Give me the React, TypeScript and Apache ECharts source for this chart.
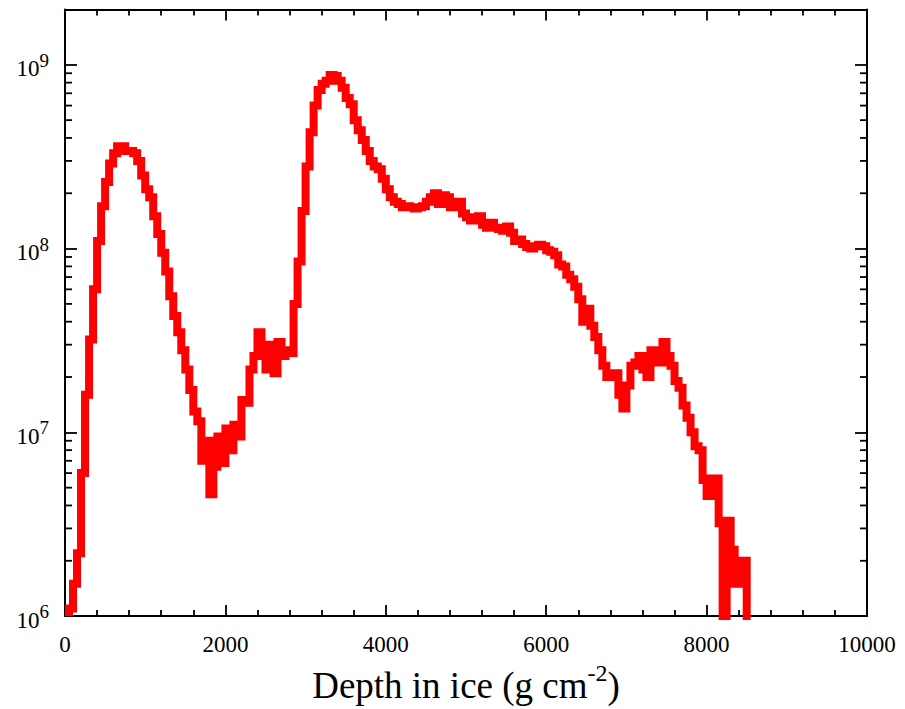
import React, { useEffect, useRef } from "react";
import * as echarts from "echarts";

// Histogram: depth in ice (g cm^-2), bins of BIN_WIDTH starting at DEPTH_START
const DEPTH_START = 0;
const BIN_WIDTH = 50;
const counts: number[] = [
  1.05e6, 1.1e6, 1.5e6, 2.2e6, 6.0e6, 1.6e7, 3.2e7, 6.0e7, 1.1e8, 1.7e8,
  2.3e8, 2.9e8, 3.3e8, 3.6e8, 3.6e8, 3.4e8, 3.4e8, 3.3e8, 3.0e8, 2.5e8,
  2.1e8, 1.9e8, 1.5e8, 1.2e8, 9.5e7, 7.5e7, 5.5e7, 4.3e7, 3.5e7, 2.8e7,
  2.2e7, 1.7e7, 1.3e7, 1.15e7, 7.0e6, 9.0e6, 4.6e6, 6.5e6, 9.5e6, 6.8e6,
  1.05e7, 8.0e6, 1.1e7, 9.5e6, 1.5e7, 1.45e7, 2.2e7, 2.6e7, 3.5e7, 2.6e7,
  2.2e7, 3.0e7, 2.1e7, 3.1e7, 2.6e7, 2.8e7, 2.7e7, 5.0e7, 8.5e7, 1.6e8,
  2.8e8, 4.3e8, 6.0e8, 7.3e8, 7.9e8, 8.2e8, 8.8e8, 8.7e8, 8.2e8, 7.5e8,
  6.6e8, 6.1e8, 5.0e8, 4.4e8, 3.9e8, 3.4e8, 3.0e8, 2.8e8, 2.7e8, 2.4e8,
  2.1e8, 1.9e8, 1.8e8, 1.75e8, 1.68e8, 1.7e8, 1.68e8, 1.65e8, 1.68e8, 1.7e8,
  1.8e8, 1.9e8, 2.0e8, 1.75e8, 1.95e8, 1.9e8, 1.68e8, 1.8e8, 1.8e8, 1.55e8,
  1.48e8, 1.42e8, 1.45e8, 1.5e8, 1.35e8, 1.3e8, 1.38e8, 1.3e8, 1.28e8, 1.25e8,
  1.32e8, 1.22e8, 1.1e8, 1.12e8, 1.06e8, 1.02e8, 1.0e8, 1.03e8, 1.05e8, 1.03e8,
  9.8e7, 9.6e7, 9.2e7, 8.2e7, 8.0e7, 7.2e7, 6.8e7, 6.2e7, 5.3e7, 4.0e7,
  4.7e7, 3.8e7, 3.3e7, 2.8e7, 2.3e7, 2.0e7, 2.0e7, 2.1e7, 1.6e7, 1.35e7,
  1.8e7, 2.3e7, 2.4e7, 2.6e7, 2.2e7, 2.0e7, 2.8e7, 2.6e7, 2.4e7, 3.1e7,
  2.6e7, 2.3e7, 1.9e7, 1.75e7, 1.4e7, 1.2e7, 1.0e7, 8.4e6, 8.0e6, 5.5e6,
  4.5e6, 5.6e6, 5.6e6, 3.2e6, 0, 3.3e6, 2.3e6, 1.5e6, 2.0e6, 2.0e6,
];

const X_MIN = 0;
const X_MAX = 10000;
const X_INTERVAL = 2000;
const Y_MIN = 1e6;
const Y_MAX = 2e9;
const Y_MINOR_MANTISSAS = [2, 3, 4, 5, 6, 7, 8, 9];
const Y_MINOR_DECADES = [6, 7, 8];
const ZERO_FLOOR = 1e3; // empty bins are drawn below the axis floor

const FONT = "'Liberation Serif', 'Times New Roman', serif";

export default function App() {
  const ref = useRef<HTMLDivElement>(null);

  useEffect(() => {
    if (!ref.current) return;
    const chart = echarts.init(ref.current, null, { renderer: "svg" });

    const lineData: [number, number][] = counts.map((c, i) => [
      DEPTH_START + i * BIN_WIDTH,
      c > 0 ? c : ZERO_FLOOR,
    ]);
    lineData.push([DEPTH_START + counts.length * BIN_WIDTH, ZERO_FLOOR]);

    const yMinor: [number, number][] = [];
    Y_MINOR_DECADES.forEach((d) =>
      Y_MINOR_MANTISSAS.forEach((m) => yMinor.push([X_MIN, m * Math.pow(10, d)]))
    );

    const axisLine = { show: true, onZero: false, lineStyle: { color: "#000", width: 2 } };
    const xTick = { show: true, inside: true, length: 11, lineStyle: { color: "#000", width: 1.8 } };
    const xMinor = { show: true, splitNumber: 5, length: 6, lineStyle: { color: "#000", width: 1.8 } };
    const yTick = { show: true, inside: true, length: 12, lineStyle: { color: "#000", width: 1.8 } };

    const yLabelFormatter = (v: number) => {
      const l = Math.log10(v);
      const e = Math.round(l);
      if (Math.abs(l - e) > 1e-6) return "";
      return `{b|10}{s|${e}}`;
    };

    chart.setOption({
      animation: false,
      backgroundColor: "#fff",
      grid: { left: 65, right: 38, top: 9.5, bottom: 91 },
      xAxis: [
        {
          type: "value",
          position: "bottom",
          min: X_MIN,
          max: X_MAX,
          interval: X_INTERVAL,
          axisLine,
          axisTick: xTick,
          minorTick: xMinor,
          splitLine: { show: false },
          axisLabel: {
            formatter: (v: number) => `{a|${String(Math.round(v))}}`,
            fontFamily: FONT,
            fontSize: 23,
            color: "#000",
            margin: 16,
            rich: { a: { fontFamily: FONT, fontSize: 23, lineHeight: 24, color: "#000" } },
          },
          name: "{a|Depth in ice (g cm}{s|-2}{a|)}",
          nameLocation: "middle",
          nameGap: 43,
          nameTextStyle: {
            color: "#000",
            fontFamily: FONT,
            rich: {
              a: { fontFamily: FONT, fontSize: 37, lineHeight: 50, color: "#000" },
              s: { fontFamily: FONT, fontSize: 24, lineHeight: 20, verticalAlign: "top", color: "#000" },
            },
          },
        },
        {
          type: "value",
          position: "top",
          min: X_MIN,
          max: X_MAX,
          interval: X_INTERVAL,
          axisLine,
          axisTick: xTick,
          minorTick: xMinor,
          splitLine: { show: false },
          axisLabel: { show: false },
        },
      ],
      yAxis: [
        {
          type: "log",
          logBase: 10,
          position: "left",
          min: Y_MIN,
          max: Y_MAX,
          axisLine,
          axisTick: yTick,
          splitLine: { show: false },
          axisLabel: {
            formatter: yLabelFormatter,
            margin: 16,
            padding: [8, 0, 0, 0],
            color: "#000",
            fontFamily: FONT,
            rich: {
              b: { fontFamily: FONT, fontSize: 23, lineHeight: 36, color: "#000" },
              s: { fontFamily: FONT, fontSize: 19, lineHeight: 19, verticalAlign: "top", color: "#000" },
            },
          },
        },
        {
          type: "log",
          logBase: 10,
          position: "right",
          min: Y_MIN,
          max: Y_MAX,
          axisLine,
          axisTick: yTick,
          splitLine: { show: false },
          axisLabel: { show: false },
        },
      ],
      series: [
        {
          type: "line",
          xAxisIndex: 0,
          yAxisIndex: 0,
          data: lineData,
          step: "end",
          symbol: "none",
          clip: true,
          lineStyle: { color: "#ff0000", width: 8, join: "miter", cap: "butt" },
          z: 2,
        },
        {
          type: "custom",
          xAxisIndex: 0,
          yAxisIndex: 0,
          silent: true,
          clip: false,
          z: 5,
          data: yMinor,
          renderItem: (_params: any, api: any) => {
            const v = api.value(1);
            const pl = api.coord([X_MIN, v]);
            const pr = api.coord([X_MAX, v]);
            const style = { stroke: "#000", lineWidth: 1.8 };
            return {
              type: "group",
              children: [
                { type: "line", shape: { x1: pl[0], y1: pl[1], x2: pl[0] + 7, y2: pl[1] }, style },
                { type: "line", shape: { x1: pr[0] - 7, y1: pr[1], x2: pr[0], y2: pr[1] }, style },
              ],
            };
          },
        },
      ],
    });

    return () => chart.dispose();
  }, []);

  return (
    <div
      ref={ref}
      style={{ position: "absolute", left: 0, top: 0, width: 905, height: 709, background: "#fff" }}
    />
  );
}
